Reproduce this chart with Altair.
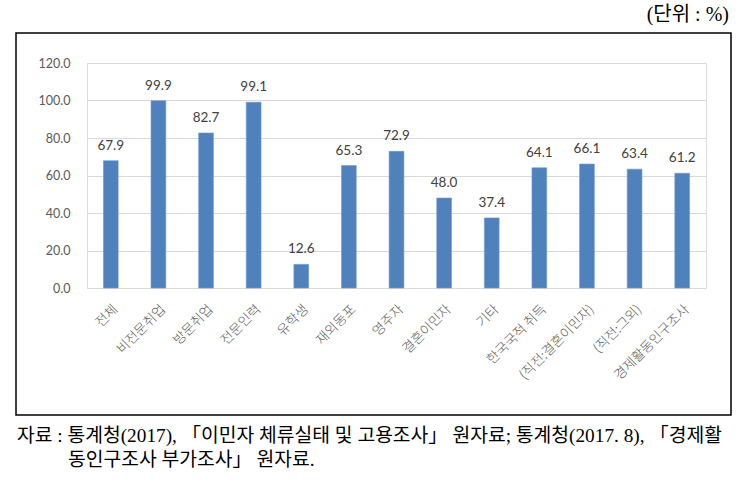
import altair as alt
import pandas as pd

categories = ["전체", "비전문취업", "방문취업", "전문인력", "유학생", "재외동포", "영주자",
              "결혼이민자", "기타", "한국국적 취득", "(직전:결혼이민자)", "(직전:그외)", "경제활동인구조사"]
values = [67.9, 99.9, 82.7, 99.1, 12.6, 65.3, 72.9, 48.0, 37.4, 64.1, 66.1, 63.4, 61.2]
y_ticks = [0, 20, 40, 60, 80, 100, 120]
unit_text = "(단위 : %)"
source_line1 = "자료 : 통계청(2017), 「이민자 체류실태 및 고용조사」 원자료; 통계청(2017. 8), 「경제활"
source_line2 = "동인구조사 부가조사」 원자료."

df = pd.DataFrame({"cat": categories, "val": values})
one = pd.DataFrame({"k": [0]})

W, H = 619, 225
PL, PT, PR, PB = 87, 63, 46, 201

font_num = "Lato, Noto Sans CJK KR, sans-serif"
font_kr = "Noto Sans CJK KR, sans-serif"
font_serif = "Liberation Serif, Noto Sans CJK KR, serif"

x_enc = alt.X("cat:N", sort=categories, title=None,
              scale=alt.Scale(paddingInner=0.69, paddingOuter=0.345),
              axis=alt.Axis(labelAngle=-45, labelFontSize=13.5, labelColor="#5a5a5a",
                            labelFont=font_kr, labelFontWeight=300, ticks=False, domain=False,
                            labelPadding=14, labelLimit=200))
y_enc = alt.Y("val:Q", title=None,
              scale=alt.Scale(domain=[0, 120], nice=False),
              axis=alt.Axis(values=y_ticks, tickCount=7, labelOverlap=False, format=".1f",
                            labelFontSize=12.5, labelColor="#595959",
                            labelFont=font_num, ticks=False, domain=False, labelPadding=17,
                            gridColor="#D9D9D9", gridWidth=1.2))

bars = alt.Chart(df).mark_bar(color="#4F81BD", stroke="#6E98CC", strokeWidth=0.6).encode(x=x_enc, y=y_enc)

labels = alt.Chart(df).mark_text(dy=-11, baseline="alphabetic", fontSize=13.5, color="#404040",
                                 font=font_num).encode(
    x=alt.X("cat:N", sort=categories),
    y="val:Q",
    text=alt.Text("val:Q", format=".1f"))

frame = alt.Chart(one).mark_rect(fill=None, stroke="black", strokeWidth=1.5).encode(
    x=alt.value(16 - PL), x2=alt.value(731 - PL), y=alt.value(33 - PT), y2=alt.value(415 - PT))

unit = alt.Chart(one).mark_text(align="right", baseline="middle", fontSize=20, font=font_serif,
                                color="black").encode(
    x=alt.value(729 - PL), y=alt.value(15 - PT), text=alt.value(unit_text))

src1 = alt.Chart(one).mark_text(align="left", baseline="middle", fontSize=19.3, font=font_serif,
                                color="black").encode(
    x=alt.value(17 - PL), y=alt.value(436 - PT), text=alt.value(source_line1))
src2 = alt.Chart(one).mark_text(align="left", baseline="middle", fontSize=19.3, font=font_serif,
                                color="black").encode(
    x=alt.value(68 - PL), y=alt.value(460 - PT), text=alt.value(source_line2))

chart = alt.layer(bars, labels, frame, unit, src1, src2).properties(
    width=W, height=H,
    autosize=alt.AutoSizeParams(type="none"),
    padding={"left": PL, "top": PT, "right": PR, "bottom": PB},
).configure_view(stroke=None).configure(background="white")

chart.save("out.html", embed_options={"renderer": "svg", "actions": False})
